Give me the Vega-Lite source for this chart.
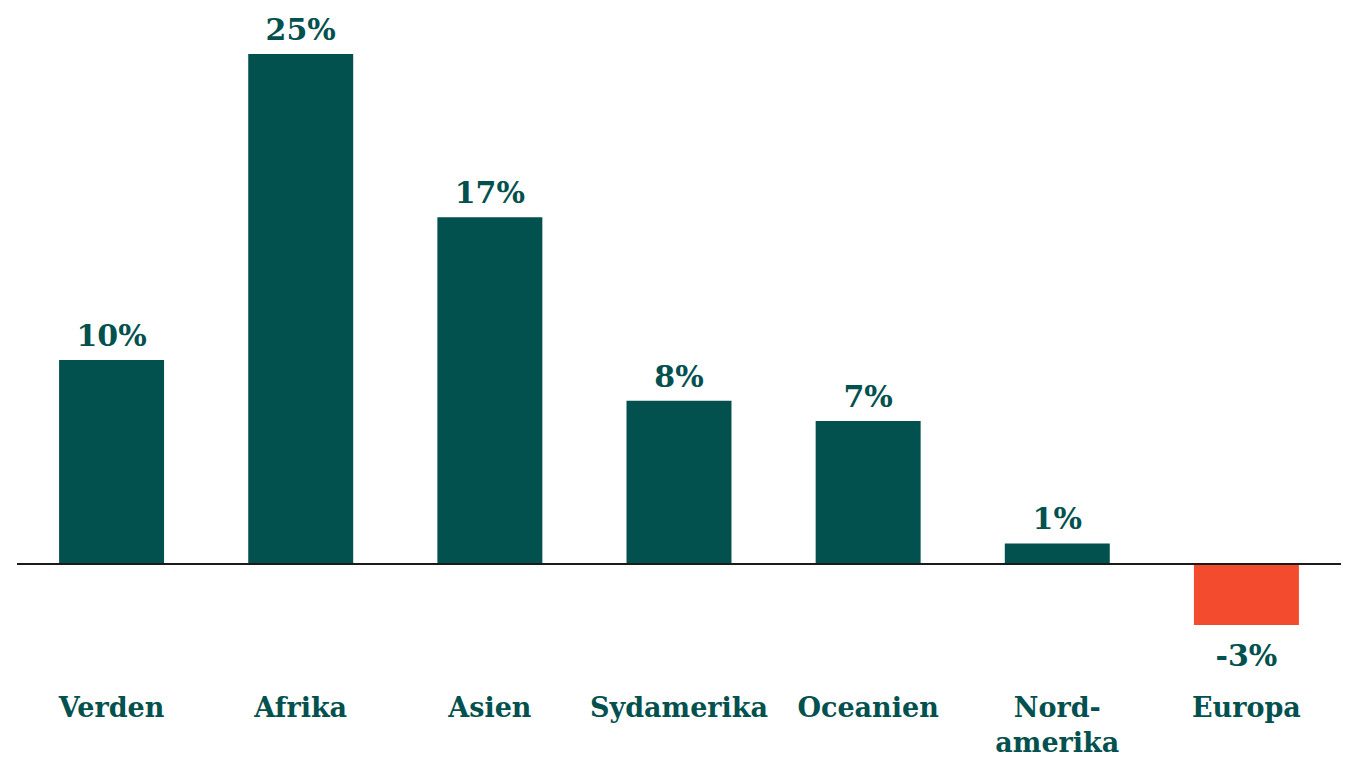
{
  "$schema": "https://vega.github.io/schema/vega-lite/v6.json",
  "autosize": {"type": "none"},
  "padding": {"left": 17, "top": 54, "right": 11, "bottom": 132},
  "width": 1324,
  "height": 571,
  "background": "white",
  "config": {
    "view": {"stroke": null},
    "font": "DejaVu Serif"
  },
  "data": {
    "values": [
      {"region": "Verden", "value": 10, "label": "10%"},
      {"region": "Afrika", "value": 25, "label": "25%"},
      {"region": "Asien", "value": 17, "label": "17%"},
      {"region": "Sydamerika", "value": 8, "label": "8%"},
      {"region": "Oceanien", "value": 7, "label": "7%"},
      {"region": "Nord-amerika", "value": 1, "label": "1%"},
      {"region": "Europa", "value": -3, "label": "-3%"}
    ]
  },
  "layer": [
    {
      "mark": {"type": "bar"},
      "encoding": {
        "x": {
          "field": "region",
          "type": "nominal",
          "sort": null,
          "scale": {"paddingInner": 0.445, "paddingOuter": 0.2225},
          "axis": {
            "title": null,
            "domain": false,
            "ticks": false,
            "labelAngle": 0,
            "labelFont": "DejaVu Serif",
            "labelFontWeight": "bold",
            "labelFontSize": 27,
            "labelColor": "#03514F",
            "labelPadding": 91,
            "labelBaseline": "alphabetic",
            "labelLineHeight": 35,
            "labelLimit": 300,
            "labelExpr": "datum.label == 'Nord-amerika' ? ['Nord-', 'amerika'] : datum.label"
          }
        },
        "y": {
          "field": "value",
          "type": "quantitative",
          "scale": {"domain": [-3, 25], "nice": false, "zero": true},
          "axis": null
        },
        "color": {
          "condition": {"test": "datum.value < 0", "value": "#F24B2D"},
          "value": "#03514F"
        }
      }
    },
    {
      "mark": {"type": "rule", "color": "#1a1a1a", "strokeWidth": 1.5},
      "encoding": {"y": {"datum": 0, "type": "quantitative"}}
    },
    {
      "transform": [{"filter": "datum.value >= 0"}],
      "mark": {"type": "text", "baseline": "alphabetic", "dy": -14, "fontSize": 30, "fontWeight": "bold", "font": "DejaVu Serif", "color": "#03514F"},
      "encoding": {
        "x": {"field": "region", "type": "nominal", "sort": null},
        "y": {"field": "value", "type": "quantitative"},
        "text": {"field": "label", "type": "nominal"}
      }
    },
    {
      "transform": [{"filter": "datum.value < 0"}],
      "mark": {"type": "text", "baseline": "alphabetic", "dy": 41, "fontSize": 30, "fontWeight": "bold", "font": "DejaVu Serif", "color": "#03514F"},
      "encoding": {
        "x": {"field": "region", "type": "nominal", "sort": null},
        "y": {"field": "value", "type": "quantitative"},
        "text": {"field": "label", "type": "nominal"}
      }
    }
  ]
}
